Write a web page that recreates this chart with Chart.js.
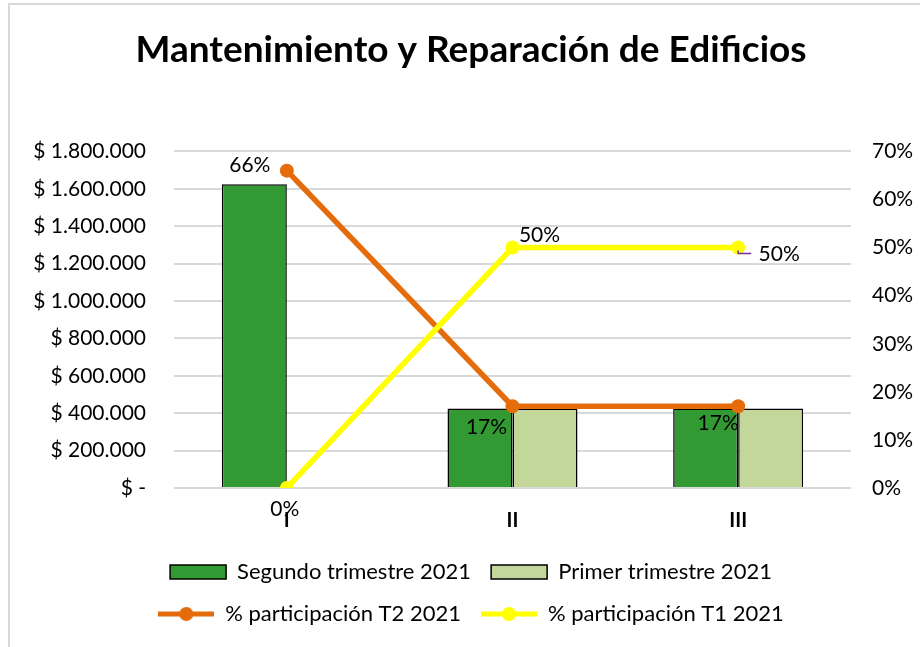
<!DOCTYPE html>
<html lang="es">
<head>
<meta charset="utf-8">
<title>Mantenimiento y Reparación de Edificios</title>
<script src="https://cdn.jsdelivr.net/npm/chart.js@4.4.0/dist/chart.umd.min.js"></script>
<style>
  html, body { margin: 0; padding: 0; background: #fff; overflow: hidden; }
  #frame { position: absolute; left: 8px; top: 3px; width: 1000px; height: 1000px;
           border-left: 2px solid #d9d9d9; border-top: 2px solid #d9d9d9; }
  #wrap  { position: absolute; left: 0; top: 0; width: 920px; height: 647px; }
</style>
</head>
<body>
<div id="frame"></div>
<div id="wrap"><canvas id="chart"></canvas></div>
<script>
'use strict';

/* ── DATA ── */
const CATEGORIES = ['I', 'II', 'III'];
const SEGUNDO_T2 = [1625000, 425000, 425000];   // Segundo trimestre 2021 ($)
const PRIMER_T1  = [0, 425000, 425000];         // Primer trimestre 2021 ($)
const PART_T2    = [0.66, 0.17, 0.17];          // % participación T2 2021
const PART_T1    = [0, 0.50, 0.50];             // % participación T1 2021
const MONEY_MAX  = 1800000;
const MONEY_STEP = 200000;
const PCT_MAX    = 0.7;
const PCT_STEP   = 0.1;

/* ── STYLE ── */
const COLORS = {
  darkGreen: '#339933',
  lightGreen: '#c4d79b',
  orange: '#e46c0a',
  yellow: '#ffff00',
  grid: '#d9d9d9',
  text: '#000000',
  leader: '#7030a0'
};
const FONT = 'Lato, "Open Sans", sans-serif';
const PAD_LEFT = 22;   // shifts title + legend centre right, like the original

// label offsets (px) from each point, hand-placed like the original
const LABEL_OFFSETS_T2 = [[-37, -5], [-26, 21], [-20, 17]];
const LABEL_OFFSETS_T1 = [[-2, 21], [27, -12], [41, 7]];

function fmtMoney(v) {
  if (v === 0) return '$ -';
  return '$ ' + Math.round(v).toString().replace(/\B(?=(\d{3})+(?!\d))/g, '.');
}
const fmtPct = v => Math.round(v * 100) + '%';

/* ── LEGEND SWATCH FOR LINE SERIES ── */
function lineSwatch(color) {
  const c = document.createElement('canvas');
  c.width = 56; c.height = 16;
  const g = c.getContext('2d');
  g.strokeStyle = color;
  g.lineWidth = 5;
  g.beginPath(); g.moveTo(0, 8); g.lineTo(56, 8); g.stroke();
  g.fillStyle = color;
  g.beginPath(); g.arc(28, 8, 7, 0, Math.PI * 2); g.fill();
  return c;
}

/* ── DATA LABEL PLUGIN ── */
const pctLabels = {
  id: 'pctLabels',
  afterDatasetsDraw(chart) {
    const ctx = chart.ctx;
    ctx.save();
    ctx.font = '21px ' + FONT;
    ctx.fillStyle = COLORS.text;
    ctx.textAlign = 'center';
    ctx.textBaseline = 'middle';
    chart.data.datasets.forEach((ds, di) => {
      if (!ds.labelOffsets) return;
      const meta = chart.getDatasetMeta(di);
      meta.data.forEach((pt, i) => {
        const [dx, dy] = ds.labelOffsets[i];
        ctx.fillText(fmtPct(ds.data[i]), pt.x + dx, pt.y + dy);
      });
    });
    // small leader line on the last T1 label
    const last = chart.getDatasetMeta(3).data[2];
    ctx.strokeStyle = COLORS.leader;
    ctx.lineWidth = 1.5;
    ctx.beginPath();
    ctx.moveTo(last.x, last.y + 3);
    ctx.lineTo(last.x, last.y + 6);
    ctx.lineTo(last.x + 13, last.y + 6);
    ctx.stroke();
    ctx.restore();
  }
};

/* ── CHART ── */
new Chart(document.getElementById('chart'), {
  type: 'bar',
  data: {
    labels: CATEGORIES,
    datasets: [
      {
        label: 'Segundo trimestre 2021',
        data: SEGUNDO_T2,
        backgroundColor: COLORS.darkGreen,
        borderColor: '#000',
        borderWidth: 1.5,
        yAxisID: 'y',
        order: 2
      },
      {
        label: 'Primer trimestre 2021',
        data: PRIMER_T1,
        backgroundColor: COLORS.lightGreen,
        borderColor: '#000',
        borderWidth: c => (c.raw === 0 ? 0 : 1.5),
        yAxisID: 'y',
        order: 2
      },
      {
        label: '% participación T2 2021',
        type: 'line',
        data: PART_T2,
        borderColor: COLORS.orange,
        backgroundColor: COLORS.orange,
        borderWidth: 5.5,
        pointRadius: 7,
        pointBorderWidth: 0,
        tension: 0,
        yAxisID: 'y1',
        order: 1,
        labelOffsets: LABEL_OFFSETS_T2
      },
      {
        label: '% participación T1 2021',
        type: 'line',
        data: PART_T1,
        borderColor: COLORS.yellow,
        backgroundColor: COLORS.yellow,
        borderWidth: 5.5,
        pointRadius: 7,
        pointBorderWidth: 0,
        tension: 0,
        yAxisID: 'y1',
        order: 0,
        labelOffsets: LABEL_OFFSETS_T1
      }
    ]
  },
  options: {
    responsive: true,
    maintainAspectRatio: false,
    animation: false,
    layout: { padding: { left: PAD_LEFT, right: 0, top: 0, bottom: 12 } },
    datasets: { bar: { categoryPercentage: 0.576, barPercentage: 1 } },
    plugins: {
      tooltip: { enabled: false },
      title: {
        display: true,
        text: 'Mantenimiento y Reparación de Edificios',
        color: COLORS.text,
        font: { family: FONT, size: 37, weight: 'bold', lineHeight: 1.2 },
        padding: { top: 28, bottom: 79 }
      },
      legend: {
        position: 'bottom',
        labels: {
          color: COLORS.text,
          font: { family: FONT, size: 22 },
          usePointStyle: true,
          pointStyleWidth: 56,
          boxHeight: 14,
          padding: 20,
          generateLabels(chart) {
            return chart.data.datasets.map((ds, i) => ({
              text: ds.label,
              datasetIndex: i,
              fillStyle: ds.backgroundColor,
              strokeStyle: ds.type === 'line' ? ds.borderColor : '#000',
              lineWidth: ds.type === 'line' ? 0 : 1.5,
              fontColor: COLORS.text,
              pointStyle: ds.type === 'line' ? lineSwatch(ds.borderColor) : 'rect',
              hidden: false
            }));
          }
        }
      }
    },
    scales: {
      x: {
        grid: { display: false },
        border: { display: false },
        ticks: { color: COLORS.text, font: { family: FONT, size: 20, weight: 'bold' }, padding: 13 },
        afterFit: s => { s.height = 53; }
      },
      y: {
        position: 'left',
        min: 0,
        max: MONEY_MAX,
        grid: { color: COLORS.grid, lineWidth: 2, drawTicks: false },
        border: { display: false },
        ticks: {
          stepSize: MONEY_STEP,
          color: COLORS.text,
          font: { family: FONT, size: 21 },
          padding: 28,
          callback: v => fmtMoney(v)
        },
        afterFit: s => { s.width = 174 - PAD_LEFT; }
      },
      y1: {
        position: 'right',
        min: 0,
        max: PCT_MAX,
        grid: { display: false, drawTicks: false },
        border: { display: false },
        ticks: {
          stepSize: PCT_STEP,
          color: COLORS.text,
          font: { family: FONT, size: 21 },
          padding: 21,
          callback: v => fmtPct(v)
        },
        afterFit: s => { s.width = 69; }
      }
    }
  },
  plugins: [pctLabels]
});
</script>
</body>
</html>
